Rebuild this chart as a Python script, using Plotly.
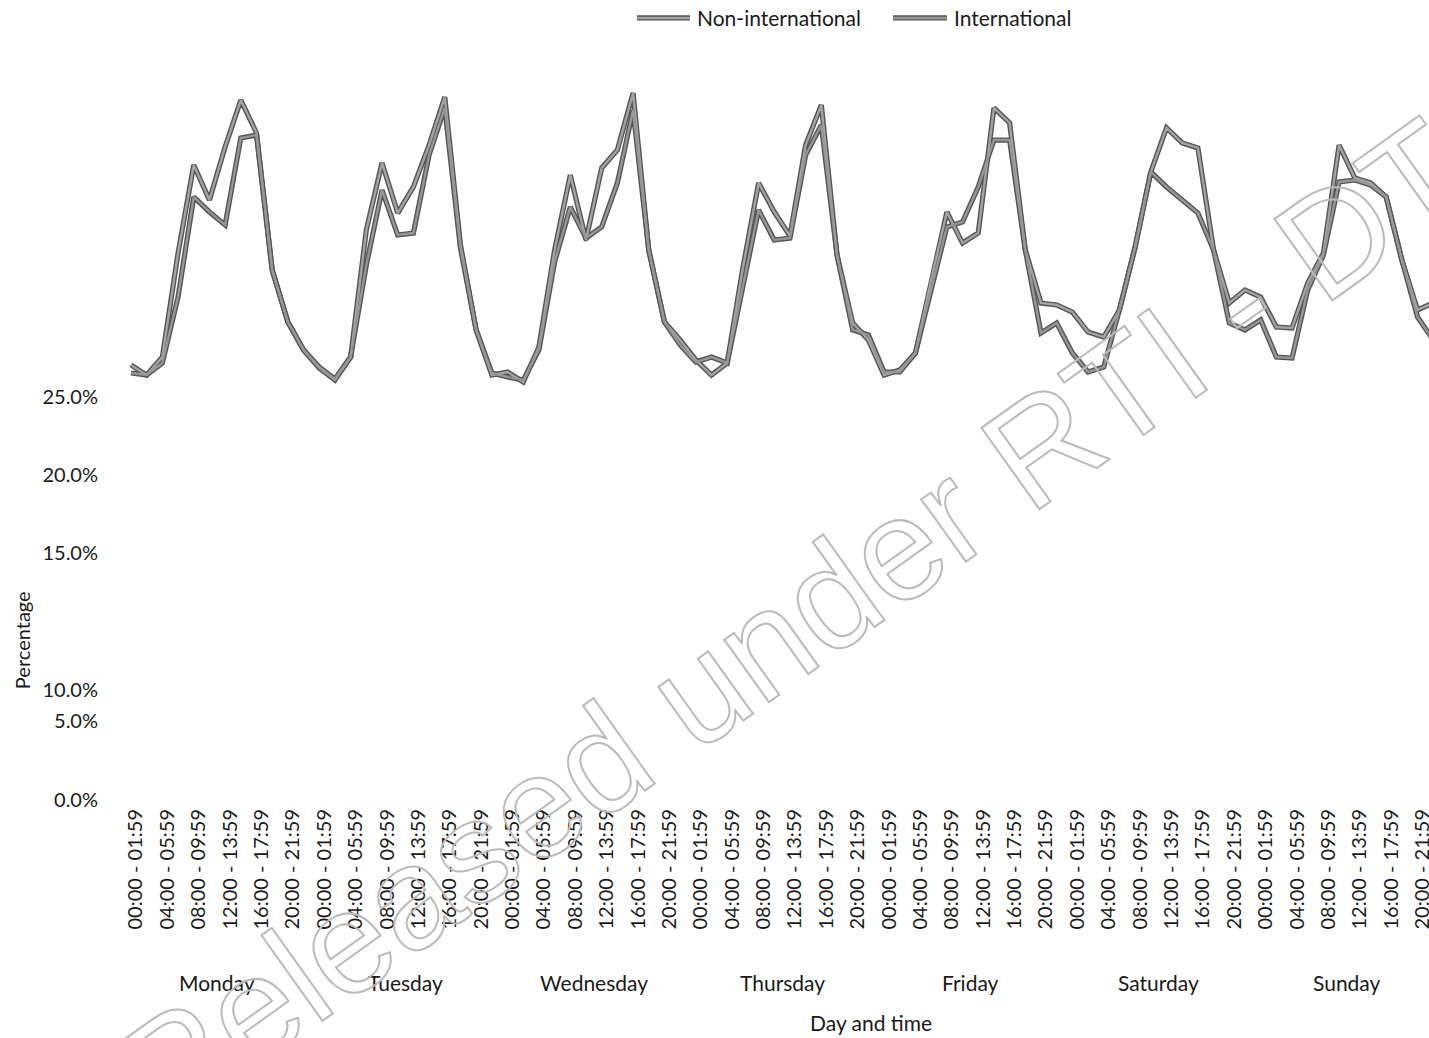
import plotly.graph_objects as go

days = ["Monday", "Tuesday", "Wednesday", "Thursday", "Friday", "Saturday", "Sunday"]
time_slots = ["00:00 - 01:59", "02:00 - 03:59", "04:00 - 05:59", "06:00 - 07:59",
              "08:00 - 09:59", "10:00 - 11:59", "12:00 - 13:59", "14:00 - 15:59",
              "16:00 - 17:59", "18:00 - 19:59", "20:00 - 21:59", "22:00 - 23:59"]

non_international = [
    26.99, 26.36, 27.48, 33.93, 39.39, 37.22, 40.51, 43.42, 41.38, 32.88, 29.65, 27.92,  # Mon
    26.80, 26.05, 27.48, 35.36, 39.52, 36.41, 38.03, 40.63, 43.61, 34.43, 29.16, 26.36,  # Tue
    26.55, 25.93, 28.10, 34.12, 38.77, 34.74, 39.21, 40.32, 43.86, 34.12, 29.65, 28.54,  # Wed
    27.30, 26.36, 27.11, 33.00, 38.28, 36.48, 34.99, 40.63, 43.11, 33.81, 29.59, 28.54,  # Thu
    26.36, 26.67, 27.73, 32.26, 36.48, 34.55, 35.17, 42.93, 42.00, 34.12, 30.83, 30.71,  # Fri
    30.27, 29.03, 28.72, 30.40, 34.31, 38.96, 41.69, 40.76, 40.45, 34.12, 30.83, 31.64,  # Sat
    31.20, 29.34, 29.28, 32.07, 33.93, 40.63, 38.59, 38.28, 37.41, 33.50, 30.40, 30.83,  # Sun
]
international = [
    26.49, 26.36, 27.11, 31.20, 37.41, 36.48, 35.67, 41.07, 41.25, 32.88, 29.65, 27.92,  # Mon
    26.86, 26.12, 27.48, 33.19, 37.84, 35.05, 35.17, 40.01, 42.93, 34.24, 29.16, 26.49,  # Tue
    26.24, 26.05, 27.92, 33.37, 36.79, 34.86, 35.55, 38.28, 42.80, 34.12, 29.65, 28.23,  # Wed
    27.17, 27.48, 27.11, 31.95, 36.60, 34.74, 34.86, 40.01, 41.87, 33.81, 29.16, 28.85,  # Thu
    26.55, 26.55, 27.73, 31.64, 35.55, 35.86, 38.03, 40.94, 40.94, 34.12, 28.97, 29.59,  # Fri
    27.73, 26.55, 26.86, 30.40, 34.31, 38.96, 38.03, 37.22, 36.41, 34.12, 29.59, 29.16,  # Sat
    29.78, 27.48, 27.42, 31.64, 33.81, 38.34, 38.46, 38.15, 37.41, 33.50, 29.96, 28.54,  # Sun
]

# y tick labels as printed on the (scanned) axis, at the heights where they appear
y_tick_text = ["0.0%", "5.0%", "10.0%", "15.0%", "20.0%", "25.0%"]
y_tick_pos = [0.0, 4.9, 6.82, 15.32, 20.16, 25.0]

series_names = ["Non-international", "International"]
watermark = "Released under RTI - DTF"

n = len(days) * len(time_slots)
x = list(range(n))
tick_vals = x[::2]
tick_text = [time_slots[i % len(time_slots)] for i in tick_vals]

FONT = "Lato, 'Open Sans', sans-serif"
TXT = "#1a1a1a"
EDGE = "#555555"
FILLS = ["#a3a3a3", "#969696"]

fig = go.Figure()
for name, vals in zip(series_names, [non_international, international]):
    fig.add_trace(go.Scatter(x=x, y=vals, mode="lines", showlegend=False, hoverinfo="skip",
                             line=dict(color=EDGE, width=5.2)))
for name, vals, c in zip(series_names, [non_international, international], FILLS):
    fig.add_trace(go.Scatter(x=x, y=vals, mode="lines", name=name, showlegend=False,
                             line=dict(color=c, width=2.4)))

annotations = []
shapes = []
# manual legend (long line keys like the original)
legend_items = [(0.3912, 0.4320, 0.4358), (0.5880, 0.6295, 0.6334)]
for (x0, x1, xt), name, c in zip(legend_items, series_names, FILLS):
    shapes.append(dict(type="line", xref="paper", yref="paper", x0=x0, x1=x1, y0=1.0568, y1=1.0568,
                       line=dict(color=EDGE, width=5.2)))
    shapes.append(dict(type="line", xref="paper", yref="paper", x0=x0, x1=x1, y0=1.0568, y1=1.0568,
                       line=dict(color=c, width=2.4)))
    annotations.append(dict(x=xt, xref="paper", y=1.0568, yref="paper", text=name,
                            showarrow=False, xanchor="left", yanchor="middle",
                            font=dict(family=FONT, size=21, color=TXT)))

for k, d in enumerate(days):
    annotations.append(dict(x=5.5 + 12 * k, xref="x", y=-0.247, yref="paper", text=d,
                            showarrow=False, xanchor="center", yanchor="middle",
                            font=dict(family=FONT, size=21, color=TXT)))
annotations.append(dict(x=0.571, xref="paper", y=-0.30, yref="paper", text="Day and time",
                        showarrow=False, xanchor="center", yanchor="middle",
                        font=dict(family=FONT, size=21, color=TXT)))
annotations.append(dict(x=-0.0815, xref="paper", y=0.216, yref="paper", text="Percentage",
                        showarrow=False, xanchor="center", yanchor="middle", textangle=-90,
                        font=dict(family=FONT, size=20, color=TXT)))
annotations.append(dict(x=0.5388, xref="paper", y=0.273, yref="paper", text=watermark,
                        showarrow=False, xanchor="center", yanchor="middle", textangle=-35.5,
                        font=dict(family="Liberation Sans, Arial, sans-serif", size=145,
                                  color="rgba(0,0,0,0)")))

fig.update_layout(
    width=1429, height=1038,
    margin=dict(l=128, r=0, t=60, b=238, autoexpand=False),
    paper_bgcolor="white", plot_bgcolor="white",
    font=dict(family=FONT, size=20, color=TXT),
    showlegend=False,
    annotations=annotations,
    shapes=shapes,
)
fig.update_xaxes(range=[-0.19, 82.73], tickvals=tick_vals, ticktext=tick_text, tickangle=-90,
                 showgrid=False, zeroline=False, showline=False, ticks="", automargin=False,
                 ticklabelshift=5, ticklabelstandoff=4, ticklabeloverflow="allow",
                 tickfont=dict(family=FONT, size=20, color=TXT))
fig.update_yaxes(range=[0, 45.906], tickvals=y_tick_pos, ticktext=y_tick_text,
                 showgrid=False, zeroline=False, showline=False, ticks="", automargin=False,
                 ticklabelstandoff=29,
                 tickfont=dict(family=FONT, size=20, color=TXT))

post = """
document.body.style.margin='0';
document.body.style.overflow='hidden';
var gd = document.getElementById('{plot_id}');
gd.querySelectorAll('.annotation-text').forEach(function(t){
  if (t.textContent.indexOf('Released') === 0) {
    t.style.fill = 'none';
    t.style.stroke = '#bbbbbb';
    t.style.strokeWidth = '2px';
  }
});
"""
fig.write_html("out.html", post_script=post, config={"displayModeBar": False})
